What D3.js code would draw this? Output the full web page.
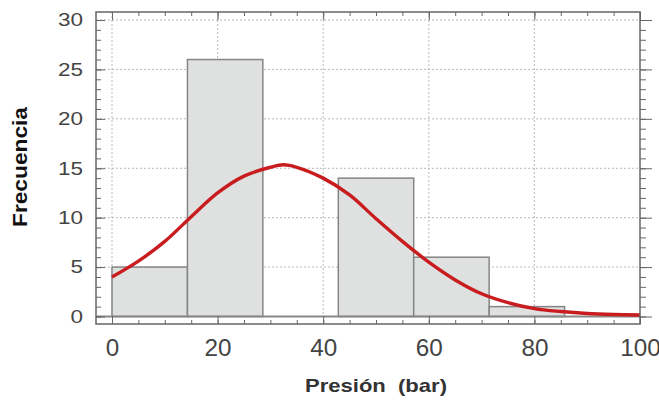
<!DOCTYPE html>
<html>
<head>
<meta charset="utf-8">
<script src="https://cdn.jsdelivr.net/npm/d3@7"></script>
<style>
  body { margin: 0; background: #fff; }
  svg { display: block; font-family: "Liberation Sans", Arial, sans-serif; }
</style>
</head>
<body>
<svg id="chart"></svg>
<script>
// histograma: límites de clase y frecuencias
const binEdges = [0, 14.29, 28.57, 42.86, 57.14, 71.43, 85.71, 100];
const binCounts = [5, 26, 0, 14, 6, 1, 0];

// curva normal ajustada
const curveX = [0, 5, 10, 15, 20, 25, 30, 32.5, 35, 40, 45, 50, 55, 60, 65, 70, 75, 80, 85, 90, 95, 100];
const curveY = [4.0, 5.6, 7.6, 10.1, 12.5, 14.2, 15.1, 15.35, 15.1, 14.0, 12.3, 9.9, 7.6, 5.5, 3.7, 2.3, 1.4, 0.8, 0.5, 0.3, 0.2, 0.15];

const xTicks = [0, 20, 40, 60, 80, 100];
const yTicks = [0, 5, 10, 15, 20, 25, 30];

const width = 659, height = 401;
const frame = { left: 96, top: 12, right: 640, bottom: 324 };

const svg = d3.select('#chart').attr('width', width).attr('height', height);

const x = d3.scaleLinear().domain([0, 100]).range([112, 640]);
const y = d3.scaleLinear().domain([0, 30]).range([316.5, 20]);

// rejilla
const grid = svg.append('g');
grid.selectAll('.hgrid')
  .data(yTicks.filter(d => d > 0))
  .enter().append('line')
  .attr('x1', frame.left).attr('x2', frame.right)
  .attr('y1', d => y(d)).attr('y2', d => y(d))
  .attr('stroke', '#b8b8b8').attr('stroke-width', 1)
  .attr('stroke-dasharray', '2,2');
grid.selectAll('.vgrid')
  .data(xTicks.filter(d => d < 100))
  .enter().append('line')
  .attr('x1', d => x(d)).attr('x2', d => x(d))
  .attr('y1', frame.top).attr('y2', y(0))
  .attr('stroke', '#b8b8b8').attr('stroke-width', 1)
  .attr('stroke-dasharray', '2,2');

// barras
const bins = binCounts.map((c, i) => ({ x0: binEdges[i], x1: binEdges[i + 1], c }));
svg.selectAll('.bar')
  .data(bins.filter(d => d.c > 0))
  .enter().append('rect')
  .attr('class', 'bar')
  .attr('x', d => x(d.x0))
  .attr('y', d => y(d.c))
  .attr('width', d => x(d.x1) - x(d.x0))
  .attr('height', d => y(0) - y(d.c))
  .attr('fill', '#dfe1e1')
  .attr('stroke', '#858585')
  .attr('stroke-width', 1.5);

// línea de cero
svg.append('line')
  .attr('x1', frame.left).attr('x2', frame.right)
  .attr('y1', y(0)).attr('y2', y(0))
  .attr('stroke', '#888').attr('stroke-width', 2);

// curva
const line = d3.line()
  .x(d => x(d[0]))
  .y(d => y(d[1]))
  .curve(d3.curveCatmullRom);
svg.append('path')
  .datum(curveX.map((v, i) => [v, curveY[i]]))
  .attr('d', line)
  .attr('fill', 'none')
  .attr('stroke', '#c81c1e')
  .attr('stroke-width', 3.4);

// marco
svg.append('rect')
  .attr('x', frame.left).attr('y', frame.top)
  .attr('width', frame.right - frame.left)
  .attr('height', frame.bottom - frame.top)
  .attr('fill', 'none')
  .attr('stroke', '#666').attr('stroke-width', 1.5);

// ticks
const minorX = d3.range(0, 101, 5);
const minorY = d3.range(0, 31, 1);

function ticks(axis, transform) {
  const g = svg.append('g').attr('transform', transform).call(axis);
  g.select('.domain').remove();
  g.selectAll('line').attr('stroke', '#666');
  return g;
}
ticks(d3.axisBottom(x).tickValues(minorX).tickSize(-4).tickFormat(''), `translate(0,${frame.bottom})`);
ticks(d3.axisBottom(x).tickValues(xTicks).tickSize(-8).tickFormat(''), `translate(0,${frame.bottom})`);
ticks(d3.axisTop(x).tickValues(minorX).tickSize(-4).tickFormat(''), `translate(0,${frame.top})`);
ticks(d3.axisTop(x).tickValues(xTicks).tickSize(-8).tickFormat(''), `translate(0,${frame.top})`);
ticks(d3.axisLeft(y).tickValues(minorY).tickSize(-5).tickFormat(''), `translate(${frame.left},0)`);
ticks(d3.axisLeft(y).tickValues(yTicks).tickSize(-9).tickFormat(''), `translate(${frame.left},0)`);
ticks(d3.axisRight(y).tickValues(minorY).tickSize(6).tickFormat(''), `translate(${frame.right},0)`);
ticks(d3.axisRight(y).tickValues(yTicks).tickSize(12).tickFormat(''), `translate(${frame.right},0)`);

// etiquetas de ejes
const xLab = svg.append('g')
  .attr('transform', `translate(0,${frame.bottom})`)
  .call(d3.axisBottom(x).tickValues(xTicks).tickSize(0).tickPadding(16));
xLab.select('.domain').remove();
xLab.selectAll('text')
  .attr('font-size', 23)
  .attr('font-family', '"Liberation Sans", Arial, sans-serif')
  .attr('fill', '#444')
  .attr('textLength', d => String(d).length * 13.5)
  .attr('lengthAdjust', 'spacingAndGlyphs');

const yLab = svg.append('g')
  .attr('transform', `translate(${frame.left},0)`)
  .call(d3.axisLeft(y).tickValues(yTicks).tickSize(0).tickPadding(13));
yLab.select('.domain').remove();
yLab.selectAll('text')
  .attr('font-size', 18)
  .attr('font-family', '"Liberation Sans", Arial, sans-serif')
  .attr('fill', '#444')
  .attr('textLength', d => String(d).length * 12.5)
  .attr('lengthAdjust', 'spacingAndGlyphs');

// títulos
svg.append('text')
  .attr('x', 376).attr('y', 392)
  .attr('text-anchor', 'middle')
  .attr('font-size', 19).attr('font-weight', 'bold')
  .attr('fill', '#333')
  .attr('textLength', 142).attr('lengthAdjust', 'spacingAndGlyphs')
  .text('Presión\u00a0\u00a0(bar)');

svg.append('text')
  .attr('transform', 'translate(27,167) rotate(-90)')
  .attr('text-anchor', 'middle')
  .attr('font-size', 20).attr('font-weight', 'bold')
  .attr('fill', '#111')
  .attr('textLength', 120).attr('lengthAdjust', 'spacingAndGlyphs')
  .text('Frecuencia');
</script>
</body>
</html>
